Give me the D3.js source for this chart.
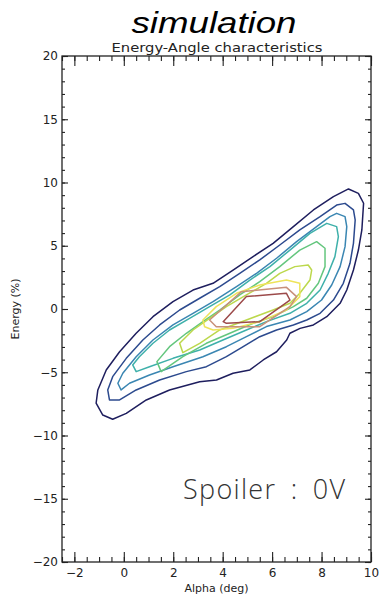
<!DOCTYPE html>
<html>
<head>
<meta charset="utf-8">
<title>Energy-Angle characteristics</title>
<script src="https://d3js.org/d3.v7.min.js"></script>
<style>
  body { margin: 0; background: #fff; }
  svg { display: block; }
  .axis line { stroke: #222; stroke-width: 1.1; }
  .axis .domain { display: none; }
  .axis text { font-family: "DejaVu Sans", sans-serif; font-size: 12px; fill: #222; }
  .frame { fill: none; stroke: #222; stroke-width: 1.3; }
  .contour { fill: none; stroke-width: 1.5; stroke-linejoin: round; }
</style>
</head>
<body>
<svg width="383" height="598"></svg>
<script>
const alphaTicks = [-2, 0, 2, 4, 6, 8, 10];
const energyTicks = [-20, -15, -10, -5, 0, 5, 10, 15, 20];

// contour lines, outermost first, as [alpha, energy]
const level1 = [[9.09,9.49],[9.49,9.14],[9.70,8.36],[9.63,6.25],[9.49,4.66],[9.29,3.08],[9.02,1.50],[8.75,0.45],[8.21,-0.61],[7.67,-1.26],[7.13,-1.53],[6.72,-1.92],[6.59,-2.45],[6.18,-3.38],[5.64,-4.03],[5.10,-4.82],[4.42,-5.08],[3.75,-5.61],[3.07,-5.75],[1.85,-6.40],[0.91,-7.19],[0.10,-8.25],[-0.45,-8.72],[-0.85,-8.38],[-1.12,-7.45],[-1.05,-6.40],[-0.71,-4.82],[-0.17,-3.38],[0.50,-1.92],[1.18,-0.61],[1.99,0.58],[2.80,1.50],[3.61,2.03],[4.42,3.08],[5.23,4.14],[6.04,5.19],[6.86,6.51],[7.67,7.83],[8.48,8.88]];
const level2 = [[8.95,8.35],[9.29,7.83],[9.36,7.04],[9.29,5.19],[9.15,3.61],[8.88,2.03],[8.48,0.71],[7.94,-0.34],[7.40,-0.87],[6.86,-1.26],[6.18,-1.66],[5.50,-2.19],[4.83,-2.98],[4.15,-3.77],[3.34,-4.56],[2.53,-4.95],[1.45,-5.61],[0.50,-6.40],[-0.17,-7.19],[-0.58,-7.19],[-0.65,-6.40],[-0.45,-5.35],[0.10,-3.90],[0.77,-2.45],[1.45,-1.26],[2.26,-0.08],[3.07,0.85],[3.88,1.77],[4.69,2.82],[5.50,3.88],[6.31,5.06],[7.12,6.25],[7.94,7.30],[8.61,8.22]];
const level3 = [[8.61,7.56],[8.95,7.30],[9.02,6.51],[8.95,4.93],[8.75,3.35],[8.41,1.90],[8.00,0.71],[7.40,-0.21],[6.72,-0.87],[5.77,-1.39],[4.96,-2.19],[4.15,-2.98],[3.20,-3.77],[1.99,-4.56],[1.04,-5.22],[0.23,-5.87],[-0.11,-6.40],[-0.24,-5.87],[-0.04,-5.08],[0.50,-3.77],[1.18,-2.45],[1.99,-1.26],[2.80,-0.34],[3.61,0.58],[4.56,1.77],[5.37,2.82],[6.18,4.01],[6.99,5.32],[7.80,6.51],[8.34,7.30]];
const level4 = [[8.21,6.77],[8.61,6.51],[8.68,5.72],[8.54,4.14],[8.27,2.82],[7.94,1.50],[7.40,0.45],[6.72,-0.34],[5.77,-1.00],[4.96,-1.66],[4.01,-2.45],[3.07,-3.24],[1.99,-3.90],[1.04,-4.56],[0.50,-4.95],[0.36,-4.42],[0.63,-3.77],[1.18,-2.71],[1.85,-1.66],[2.66,-0.74],[3.47,0.19],[4.29,1.11],[5.10,2.29],[5.91,3.35],[6.72,4.66],[7.53,5.98]];
const level5 = [[7.80,5.32],[8.14,4.80],[8.14,3.35],[7.87,2.03],[7.40,0.85],[6.86,0.19],[6.04,-0.60],[5.23,-1.13],[4.29,-1.92],[3.34,-2.71],[2.39,-3.77],[1.51,-4.95],[1.34,-4.16],[1.85,-2.98],[2.53,-1.92],[3.20,-1.00],[3.88,-0.08],[4.69,1.11],[5.50,2.16],[6.31,3.35],[7.12,4.66]];
const level6 = [[6.92,3.35],[7.46,3.48],[7.60,3.08],[7.53,2.29],[7.12,1.24],[6.72,0.45],[6.04,-0.08],[4.96,-0.87],[3.88,-1.66],[3.07,-2.71],[2.39,-3.45],[2.26,-2.71],[2.80,-1.66],[3.47,-0.74],[4.15,0.19],[4.96,1.11],[5.77,2.03],[6.31,2.82]];
const level7 = [[3.20,-0.87],[3.74,0.19],[4.56,1.24],[5.50,1.90],[6.58,2.29],[7.12,2.03],[7.12,0.98],[6.58,-0.08],[5.50,-1.00],[4.42,-1.53],[3.61,-1.66],[3.27,-1.40]];
const level8 = [[3.47,-0.87],[4.76,1.37],[6.58,1.71],[6.99,0.98],[6.72,0.19],[5.50,-1.40],[3.74,-1.40]];
const level9 = [[4.02,-1.00],[4.96,0.98],[6.58,1.24],[6.72,0.71],[5.50,-1.00],[4.15,-1.13]];

const levels = [level1, level2, level3, level4, level5, level6, level7, level8, level9];
const levelColors = ['#1e1e5e', '#2c4a8e', '#3a86b2', '#3eb0aa', '#64c67e', '#bcd84c', '#eee45a', '#c8907a', '#9c4a4a'];

const svg = d3.select('svg');
const plotLeft = 62, plotRight = 371, plotTop = 56, plotBottom = 562;

const x = d3.scaleLinear().domain([-2.5, 10]).range([plotLeft, plotRight]);
const y = d3.scaleLinear().domain([-20, 20]).range([plotBottom, plotTop]);

const fmt = d => d3.format('d')(d).replace('-', '\u2212');

// minor ticks first, then major with labels
svg.append('g').attr('class', 'axis')
    .attr('transform', `translate(0,${plotBottom})`)
    .call(d3.axisBottom(x).tickValues(d3.range(-2.5, 10.01, 0.5)).tickSize(-5).tickFormat(''));
svg.append('g').attr('class', 'axis')
    .attr('transform', `translate(0,${plotBottom})`)
    .call(d3.axisBottom(x).tickValues(alphaTicks).tickSize(-10).tickPadding(6).tickFormat(fmt));
svg.append('g').attr('class', 'axis')
    .attr('transform', `translate(0,${plotTop})`)
    .call(d3.axisTop(x).tickValues(d3.range(-2.5, 10.01, 0.5)).tickSize(-5).tickFormat(''));
svg.append('g').attr('class', 'axis')
    .attr('transform', `translate(0,${plotTop})`)
    .call(d3.axisTop(x).tickValues(alphaTicks).tickSize(-10).tickFormat(''));

svg.append('g').attr('class', 'axis')
    .attr('transform', `translate(${plotLeft},0)`)
    .call(d3.axisLeft(y).tickValues(d3.range(-20, 20.01, 1)).tickSize(-3).tickFormat(''));
svg.append('g').attr('class', 'axis')
    .attr('transform', `translate(${plotLeft},0)`)
    .call(d3.axisLeft(y).tickValues(energyTicks).tickSize(-6).tickPadding(4).tickFormat(fmt));
svg.append('g').attr('class', 'axis')
    .attr('transform', `translate(${plotRight},0)`)
    .call(d3.axisRight(y).tickValues(d3.range(-20, 20.01, 1)).tickSize(-3).tickFormat(''));
svg.append('g').attr('class', 'axis')
    .attr('transform', `translate(${plotRight},0)`)
    .call(d3.axisRight(y).tickValues(energyTicks).tickSize(-6).tickFormat(''));

svg.append('rect').attr('class', 'frame')
    .attr('x', plotLeft).attr('y', plotTop)
    .attr('width', plotRight - plotLeft).attr('height', plotBottom - plotTop);

const line = d3.line()
    .x(d => x(d[0]))
    .y(d => y(d[1]))
    .curve(d3.curveLinearClosed);

svg.append('g').selectAll('path')
    .data(levels)
    .join('path')
    .attr('class', 'contour')
    .attr('stroke', (d, i) => levelColors[i])
    .attr('d', line);

// titles
svg.append('text')
    .attr('x', 214).attr('y', 33)
    .attr('text-anchor', 'middle')
    .attr('textLength', 165).attr('lengthAdjust', 'spacingAndGlyphs')
    .style('font-family', '"Liberation Sans", Arial, sans-serif')
    .style('font-style', 'italic')
    .style('font-size', '29px')
    .text('simulation');

svg.append('text')
    .attr('x', 217).attr('y', 52)
    .attr('text-anchor', 'middle')
    .attr('textLength', 211).attr('lengthAdjust', 'spacingAndGlyphs')
    .style('font-family', '"DejaVu Sans", sans-serif')
    .style('font-size', '12.5px')
    .style('fill', '#222')
    .text('Energy-Angle characteristics');

svg.append('text')
    .attr('x', (plotLeft + plotRight) / 2).attr('y', 592)
    .attr('text-anchor', 'middle')
    .style('font-family', '"DejaVu Sans", sans-serif')
    .style('font-size', '11px')
    .style('fill', '#222')
    .text('Alpha (deg)');

svg.append('text')
    .attr('transform', `translate(19,${(plotTop + plotBottom) / 2}) rotate(-90)`)
    .attr('text-anchor', 'middle')
    .style('font-family', '"DejaVu Sans", sans-serif')
    .style('font-size', '11px')
    .style('fill', '#222')
    .text('Energy (%)');

svg.append('text')
    .attr('x', 183).attr('y', 499)
    .attr('textLength', 162).attr('lengthAdjust', 'spacing')
    .style('font-family', '"Open Sans", sans-serif')
    .style('font-weight', 300)
    .style('font-size', '27px')
    .style('word-spacing', '6px')
    .style('fill', '#333')
    .text('Spoiler : 0V');
</script>
</body>
</html>
